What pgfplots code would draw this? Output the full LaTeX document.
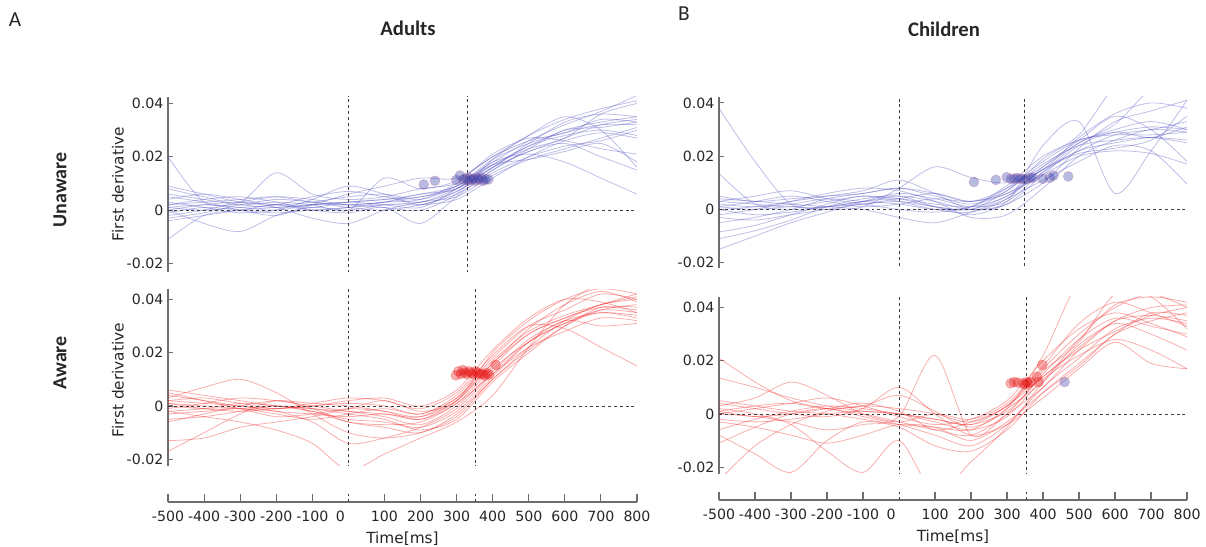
\documentclass[border=0pt]{standalone}
\usepackage{fontspec}
\setmainfont{DejaVu Sans}
\newfontfamily\calf{Carlito}
\usepackage{pgfplots}
\pgfplotsset{compat=1.18}
\definecolor{bline}{RGB}{70,70,190}
\definecolor{rline}{RGB}{240,40,40}
\definecolor{spine}{RGB}{110,110,110}
\definecolor{dashc}{RGB}{60,60,60}
\definecolor{txt}{RGB}{38,38,38}
\definecolor{bdot}{RGB}{50,60,170}
\definecolor{bedge}{RGB}{190,110,150}
\definecolor{rdot}{RGB}{230,20,20}
\pgfplotsset{
 panel/.style={scale only axis, anchor=south west, xmin=-500, xmax=800,
   axis x line=none, axis y line*=left, xtick=\empty,
   ytick={-20,0,20,40}, yticklabels={-0.02,0,0.02,0.04},
   y axis line style={draw=spine, line width=1pt},
   ytick style={draw=spine, line width=0.8pt},
   major tick length=3.5pt, tick align=inside,
   yticklabel style={font=\fontsize{10.6}{12}\selectfont, text=txt}},
 xpanel/.style={scale only axis, anchor=south west, xmin=-500, xmax=800, ymin=0, ymax=1, height=6pt,
   axis y line=none, axis x line*=bottom,
   xtick={-500,-400,-300,-200,-100,100,200,300,400,500,600,700,800},
   xticklabels={-500,-400,-300,-200,-100,100,200,300,400,500,600,700,800},
   extra x ticks={0}, extra x tick labels={0},
   extra x tick style={major tick length=0pt, xticklabel style={xshift=-6pt}},
   x axis line style={draw=spine, line width=1pt},
   xtick style={draw=spine, line width=0.8pt},
   major tick length=6pt, tick align=inside,
   xticklabel style={font=\fontsize{10.6}{12}\selectfont, text=txt, yshift=-3pt},
   xlabel={Time[ms]}, xlabel style={font=\fontsize{11.5}{13}\selectfont, text=txt, yshift=-1pt}},
 bl/.style={color=bline, opacity=0.35, line width=0.6pt, smooth, no marks},
 rl/.style={color=rline, opacity=0.38, line width=0.6pt, smooth, no marks},
 dl/.style={color=dashc, dash pattern=on 2.2pt off 2.2pt, line width=0.6pt, no marks},
 bd/.style={only marks, mark=*, mark size=3.75pt, mark options={fill=bdot, fill opacity=0.35, draw=bedge, draw opacity=0.4}},
 rd/.style={only marks, mark=*, mark size=3.75pt, mark options={fill=rdot, fill opacity=0.35, draw=rdot, draw opacity=0.3}},
}
\begin{document}
\begin{tikzpicture}
\path[use as bounding box] (0,0) rectangle (904.5pt,409.5pt);
% ---------------- Adults, unaware ----------------
\begin{axis}[panel, at={(126pt,205.7pt)}, width=351.75pt, height=131.4pt, ymin=-23.1, ymax=42.6]
\addplot[bl] coordinates {(-500,20)(-400,3)(-300,2)(-200,1)(-100,2)(0,3)(100,4)(200,6)(300,9)(400,17)(500,24)(600,30)(700,33)(800,35)};
\addplot[bl] coordinates {(-500,-11)(-400,-2)(-300,0)(-200,1)(-100,2)(0,2)(100,3)(200,5)(300,8)(400,16)(500,22)(600,27)(700,32)(800,34)};
\addplot[bl] coordinates {(-500,8)(-400,5)(-300,3)(-200,14)(-100,6)(0,4)(100,5)(200,8)(300,10)(400,18)(500,26)(600,32)(700,37)(800,43)};
\addplot[bl] coordinates {(-500,5)(-400,3)(-300,0)(-200,-2)(-100,2)(0,6)(100,9)(200,12)(300,12)(400,20)(500,28)(600,34)(700,38)(800,41)};
\addplot[bl] coordinates {(-500,0)(-400,-5)(-300,-8)(-200,-2)(-100,1)(0,0)(100,2)(200,3)(300,7)(400,16)(500,24)(600,28)(700,30)(800,28)};
\addplot[bl] coordinates {(-500,2)(-400,4)(-300,5)(-200,3)(-100,0)(0,-1)(100,1)(200,-5)(300,5)(400,15)(500,22)(600,25)(700,20)(800,15)};
\addplot[bl] coordinates {(-500,1)(-400,2)(-300,1)(-200,0)(-100,2)(0,3)(100,2)(200,1)(300,8)(400,18)(500,21)(600,18)(700,12)(800,6)};
\addplot[bl] coordinates {(-500,-3)(-400,-1)(-300,2)(-200,4)(-100,3)(0,1)(100,0)(200,2)(300,6)(400,14)(500,20)(600,24)(700,26)(800,30)};
\addplot[bl] coordinates {(-500,4)(-400,6)(-300,4)(-200,2)(-100,3)(0,5)(100,6)(200,4)(300,9)(400,19)(500,25)(600,29)(700,32)(800,32)};
\addplot[bl] coordinates {(-500,-2)(-400,0)(-300,3)(-200,5)(-100,4)(0,2)(100,3)(200,4)(300,10)(400,21)(500,27)(600,26)(700,23)(800,21)};
\addplot[bl] coordinates {(-500,3)(-400,1)(-300,-1)(-200,0)(-100,4)(0,9)(100,6)(200,2)(300,7)(400,15)(500,23)(600,30)(700,31)(800,33)};
\addplot[bl] coordinates {(-500,0)(-400,2)(-300,3)(-200,1)(-100,-3)(0,-5)(100,0)(200,3)(300,5)(400,13)(500,19)(600,23)(700,27)(800,31)};
\addplot[bl] coordinates {(-500,6)(-400,4)(-300,2)(-200,3)(-100,2)(0,0)(100,12)(200,8)(300,11)(400,20)(500,26)(600,29)(700,34)(800,33)};
\addplot[bl] coordinates {(-500,-4)(-400,-2)(-300,0)(-200,2)(-100,1)(0,3)(100,4)(200,5)(300,9)(400,17)(500,19)(600,22)(700,25)(800,18)};
\addplot[bl] coordinates {(-500,1)(-400,0)(-300,1)(-200,2)(-100,5)(0,7)(100,5)(200,3)(300,8)(400,16)(500,25)(600,33)(700,36)(800,35)};
\addplot[bl] coordinates {(-500,2)(-400,3)(-300,4)(-200,5)(-100,3)(0,2)(100,1)(200,0)(300,6)(400,19)(500,28)(600,35)(700,30)(800,16)};
\addplot[bl] coordinates {(-500,-1)(-400,1)(-300,0)(-200,-1)(-100,0)(0,1)(100,2)(200,2)(300,4)(400,12)(500,20)(600,26)(700,29)(800,27)};
\addplot[bl] coordinates {(-500,9)(-400,6)(-300,3)(-200,2)(-100,0)(0,1)(100,3)(200,6)(300,8)(400,17)(500,23)(600,27)(700,36)(800,40)};
\addplot[dl] coordinates {(-500,0)(800,0)};
\addplot[dl] coordinates {(0,-30)(0,50)};
\addplot[dl] coordinates {(331,-30)(331,50)};
\addplot[bd] coordinates {(209,9.6)(240,11)(299,11.3)(309,13)(318,11.5)(325,12)(331,11)(336,12)(341,11.5)(346,11.8)(352,11)(357,12)(362,11.5)(368,12.2)(374,11)(380,11.5)(388,11.5)};
\end{axis}
% ---------------- Adults, aware ----------------
\begin{axis}[panel, at={(126pt,60pt)}, width=351.75pt, height=132.4pt, ymin=-22.5, ymax=43.7]
\addplot[rl] coordinates {(-500,6)(-400,4)(-300,2)(-200,0)(-100,-1)(0,-2)(100,-3)(200,-4)(300,3)(400,17)(500,28)(600,34)(700,38)(800,41)};
\addplot[rl] coordinates {(-500,4)(-400,2)(-300,0)(-200,-1)(-100,0)(0,1)(100,0)(200,-3)(300,4)(400,18)(500,30)(600,36)(700,42)(800,40)};
\addplot[rl] coordinates {(-500,2)(-400,1)(-300,0)(-200,-2)(-100,-3)(0,-4)(100,-3)(200,-5)(300,2)(400,15)(500,27)(600,33)(700,37)(800,36)};
\addplot[rl] coordinates {(-500,0)(-400,-1)(-300,-1)(-200,0)(-100,-2)(0,-6)(100,-7)(200,-6)(300,1)(400,14)(500,24)(600,31)(700,36)(800,35)};
\addplot[rl] coordinates {(-500,-1)(-400,1)(-300,3)(-200,2)(-100,0)(0,-2)(100,-4)(200,-7)(300,0)(400,13)(500,25)(600,32)(700,35)(800,34)};
\addplot[rl] coordinates {(-500,-3)(-400,-2)(-300,-1)(-200,-3)(-100,-5)(0,-3)(100,-1)(200,-3)(300,3)(400,16)(500,29)(600,38)(700,43)(800,39)};
\addplot[rl] coordinates {(-500,-6)(-400,-3)(-300,0)(-200,2)(-100,1)(0,0)(100,-2)(200,-5)(300,1)(400,12)(500,22)(600,28)(700,33)(800,32)};
\addplot[rl] coordinates {(-500,-13)(-400,-12)(-300,-8)(-200,-6)(-100,-4)(0,-1)(100,2)(200,-2)(300,2)(400,20)(500,32)(600,40)(700,44)(800,42)};
\addplot[rl] coordinates {(-500,-17)(-400,-10)(-300,-3)(-200,2)(-100,-1)(0,-6)(100,-8)(200,-10)(300,-3)(400,10)(500,21)(600,30)(700,37)(800,37)};
\addplot[rl] coordinates {(-500,3)(-400,7)(-300,10)(-200,5)(-100,-3)(0,-10)(100,-12)(200,-10)(300,-4)(400,10)(500,22)(600,32)(700,38)(800,40)};
\addplot[rl] coordinates {(-500,-2)(-400,-4)(-300,-6)(-200,-9)(-100,-14)(0,-24)(100,-18)(200,-12)(300,-6)(400,4)(500,22)(600,38)(700,46)(800,50)};
\addplot[rl] coordinates {(-500,1)(-400,0)(-300,-1)(-200,-2)(-100,-6)(0,-14)(100,-12)(200,-8)(300,-1)(400,12)(500,24)(600,32)(700,30)(800,31)};
\addplot[rl] coordinates {(-500,2)(-400,3)(-300,1)(-200,-1)(-100,1)(0,3)(100,2)(200,-1)(300,5)(400,19)(500,30)(600,29)(700,22)(800,15)};
\addplot[rl] coordinates {(-500,5)(-400,2)(-300,-1)(-200,-4)(-100,-3)(0,-1)(100,-2)(200,-4)(300,2)(400,16)(500,27)(600,33)(700,38)(800,42)};
\addplot[rl] coordinates {(-500,-2)(-400,-1)(-300,1)(-200,0)(-100,-2)(0,-5)(100,-6)(200,-8)(300,-2)(400,11)(500,24)(600,31)(700,35)(800,33)};
\addplot[rl] coordinates {(-500,-5)(-400,-4)(-300,-2)(-200,0)(-100,-1)(0,-3)(100,-5)(200,-9)(300,-5)(400,9)(500,20)(600,30)(700,36)(800,38)};
\addplot[rl] coordinates {(-500,1)(-400,-1)(-300,-2)(-200,-1)(-100,0)(0,2)(100,3)(200,0)(300,6)(400,21)(500,33)(600,40)(700,39)(800,35)};
\addplot[dl] coordinates {(-500,0)(800,0)};
\addplot[dl] coordinates {(0,-30)(0,50)};
\addplot[dl] coordinates {(351,-30)(351,50)};
\addplot[rd] coordinates {(298,11.5)(305,13)(312,12)(318,13.5)(322,12.5)(328,12)(334,13)(340,12.5)(346,12)(352,13)(358,12.5)(364,12)(372,12)(378,11.5)(384,12.3)(390,11.8)(408,15.4)};
\end{axis}
% ---------------- Children, unaware ----------------
\begin{axis}[panel, at={(539.25pt,208.5pt)}, width=351pt, height=128.6pt, ymin=-22.0, ymax=42.4]
\addplot[bl] coordinates {(-500,38)(-400,18)(-300,2)(-200,1)(-100,3)(0,4)(100,2)(200,1)(300,5)(400,15)(500,22)(600,28)(700,30)(800,33)};
\addplot[bl] coordinates {(-500,13.5)(-400,2)(-300,0)(-200,1)(-100,2)(0,3)(100,1)(200,0)(300,7)(400,17)(500,24)(600,26)(700,27)(800,25)};
\addplot[bl] coordinates {(-500,5)(-400,3)(-300,4)(-200,5)(-100,6)(0,8)(100,5)(200,2)(300,6)(400,13)(500,20)(600,22)(700,21)(800,17)};
\addplot[bl] coordinates {(-500,3)(-400,2)(-300,1)(-200,3)(-100,5)(0,4)(100,1)(200,0)(300,5)(400,14)(500,25)(600,30)(700,33)(800,30)};
\addplot[bl] coordinates {(-500,2)(-400,1)(-300,2)(-200,4)(-100,3)(0,2)(100,0)(200,1)(300,8)(400,18)(500,26)(600,28)(700,28)(800,29)};
\addplot[bl] coordinates {(-500,0)(-400,-2)(-300,-1)(-200,1)(-100,3)(0,5)(100,3)(200,0)(300,3)(400,24)(500,33)(600,6)(700,22)(800,41)};
\addplot[bl] coordinates {(-500,-2)(-400,0)(-300,3)(-200,6)(-100,8)(0,7)(100,3)(200,-3)(300,-2)(400,8)(500,20)(600,26)(700,30)(800,29)};
\addplot[bl] coordinates {(-500,-5)(-400,-3)(-300,0)(-200,4)(-100,6)(0,8)(100,6)(200,3)(300,8)(400,16)(500,25)(600,32)(700,45)(800,48)};
\addplot[bl] coordinates {(-500,-8.5)(-400,-6)(-300,-2)(-200,2)(-100,5)(0,3)(100,0)(200,-1)(300,4)(400,16)(500,26)(600,35)(700,30)(800,18)};
\addplot[bl] coordinates {(-500,-11)(-400,-8)(-300,-4)(-200,1)(-100,4)(0,5)(100,1)(200,-2)(300,2)(400,10)(500,23)(600,33)(700,37)(800,41)};
\addplot[bl] coordinates {(-500,-15)(-400,-10)(-300,-5)(-200,-1)(-100,3)(0,6)(100,4)(200,1)(300,3)(400,14)(500,22)(600,25)(700,27)(800,26)};
\addplot[bl] coordinates {(-500,1)(-400,0)(-300,1)(-200,0)(-100,1)(0,8)(100,16)(200,12)(300,10)(400,15)(500,27)(600,36)(700,40)(800,38)};
\addplot[bl] coordinates {(-500,4)(-400,3)(-300,2)(-200,1)(-100,0)(0,-3)(100,-5)(200,-1)(300,4)(400,11)(500,18)(600,24)(700,22)(800,9.5)};
\addplot[bl] coordinates {(-500,0)(-400,1)(-300,3)(-200,5)(-100,7)(0,11)(100,6)(200,0)(300,2)(400,13)(500,24)(600,29)(700,27)(800,31)};
\addplot[bl] coordinates {(-500,-3)(-400,-4)(-300,-2)(-200,0)(-100,2)(0,4)(100,6)(200,3)(300,7)(400,19)(500,28)(600,46)(700,50)(800,50)};
\addplot[bl] coordinates {(-500,1)(-400,3)(-300,5)(-200,3)(-100,1)(0,2)(100,4)(200,3)(300,6)(400,15)(500,21)(600,23)(700,26)(800,35)};
\addplot[bl] coordinates {(-500,3)(-400,5)(-300,7)(-200,4)(-100,2)(0,0)(100,-1)(200,1)(300,9)(400,20)(500,26)(600,29)(700,31)(800,30)};
\addplot[dl] coordinates {(-500,0)(800,0)};
\addplot[dl] coordinates {(0,-30)(0,50)};
\addplot[dl] coordinates {(347,-30)(347,50)};
\addplot[bd] coordinates {(208,10.3)(269,11.1)(299,12.1)(311,11.5)(320,11.5)(328,11.8)(336,11.5)(344,11.5)(352,11.3)(365,11.8)(372,12)(399,11.5)(419,11.9)(429,12.7)(470,12.4)};
\end{axis}
% ---------------- Children, aware ----------------
\begin{axis}[panel, at={(539.25pt,54pt)}, width=351pt, height=133pt, ymin=-22.6, ymax=44.1]
\addplot[rl] coordinates {(-500,21)(-400,12)(-300,5)(-200,2)(-100,0)(0,-3)(100,-6)(200,-8)(300,0)(400,15)(500,28)(600,36)(700,33)(800,30)};
\addplot[rl] coordinates {(-500,13.5)(-400,10)(-300,6)(-200,3)(-100,1)(0,0)(100,-2)(200,-4)(300,3)(400,14)(500,25)(600,35)(700,37)(800,35)};
\addplot[rl] coordinates {(-500,5)(-400,3)(-300,1)(-200,0)(-100,-2)(0,-4)(100,-5)(200,-6)(300,2)(400,12)(500,26)(600,34)(700,30)(800,24)};
\addplot[rl] coordinates {(-500,3)(-400,6)(-300,12)(-200,7)(-100,0)(0,-3)(100,0)(200,-2)(300,4)(400,18)(500,34)(600,42)(700,38)(800,33)};
\addplot[rl] coordinates {(-500,1)(-400,3)(-300,4)(-200,2)(-100,3)(0,7)(100,1)(200,-5)(300,2)(400,22)(500,50)(600,55)(700,50)(800,45)};
\addplot[rl] coordinates {(-500,0)(-400,-1)(-300,-3)(-200,-6)(-100,-4)(0,-1)(100,22)(200,-8)(300,0)(400,10)(500,24)(600,35)(700,40)(800,41)};
\addplot[rl] coordinates {(-500,-3)(-400,-5)(-300,-8)(-200,-11)(-100,-8)(0,-4)(100,-5)(200,-10)(300,-3)(400,8)(500,18)(600,30)(700,35)(800,38)};
\addplot[rl] coordinates {(-500,-6)(-400,-2)(-300,1)(-200,3)(-100,2)(0,0)(100,-3)(200,-6)(300,-1)(400,13)(500,22)(600,28)(700,24)(800,17)};
\addplot[rl] coordinates {(-500,-11)(-400,-5)(-300,0)(-200,2)(-100,-1)(0,-4)(100,-8)(200,-12)(300,-4)(400,10)(500,21)(600,32)(700,36)(800,34)};
\addplot[rl] coordinates {(-500,-25)(-400,-12)(-300,-4)(-200,1)(-100,3)(0,2)(100,0)(200,-3)(300,3)(400,17)(500,30)(600,40)(700,45)(800,40)};
\addplot[rl] coordinates {(-500,2)(-400,0)(-300,-4)(-200,-14)(-100,-22)(0,-10)(100,-30)(200,-18)(300,-5)(400,12)(500,28)(600,41)(700,44)(800,42)};
\addplot[rl] coordinates {(-500,4)(-400,2)(-300,0)(-200,-1)(-100,2)(0,10)(100,0)(200,-8)(300,-4)(400,6)(500,17)(600,27)(700,19)(800,17)};
\addplot[rl] coordinates {(-500,0)(-400,2)(-300,4)(-200,6)(-100,3)(0,-1)(100,-4)(200,-2)(300,5)(400,20)(500,32)(600,38)(700,34)(800,29)};
\addplot[rl] coordinates {(-500,-2)(-400,-3)(-300,-2)(-200,0)(-100,1)(0,0)(100,-2)(200,-4)(300,1)(400,14)(500,24)(600,31)(700,37)(800,40)};
\addplot[rl] coordinates {(-500,-8)(-400,-15)(-300,-22)(-200,-10)(-100,-3)(0,-5)(100,-12)(200,-14)(300,-6)(400,8)(500,19)(600,30)(700,38)(800,37)};
\addplot[rl] coordinates {(-500,1)(-400,-1)(-300,0)(-200,2)(-100,4)(0,1)(100,-6)(200,-3)(300,3)(400,16)(500,27)(600,45)(700,44)(800,32)};
\addplot[dl] coordinates {(-500,0)(800,0)};
\addplot[dl] coordinates {(0,-30)(0,50)};
\addplot[dl] coordinates {(353,-30)(353,50)};
\addplot[rd] coordinates {(310,11.5)(320,12)(330,11.8)(345,11.5)(350,11)(355,12)(358,11.5)(365,12)(383,14)(388,12)(398,18.4)};
\addplot[bd] coordinates {(460,12)};
\end{axis}
% ---------------- x axes ----------------
\begin{axis}[xpanel, at={(126pt,33pt)}, width=351.75pt]
\addplot[dl] coordinates {(0,0)(0,1)};
\addplot[dl] coordinates {(351,0)(351,1)};
\end{axis}
\begin{axis}[xpanel, at={(539.25pt,34.5pt)}, width=351pt]
\addplot[dl] coordinates {(0,0)(0,1)};
\addplot[dl] coordinates {(353,0)(353,1)};
\end{axis}
% ---------------- texts ----------------
\begin{scope}[x=0.75pt,y=0.75pt]
\node[font=\calf\fontsize{16}{19}\selectfont, text=txt] at (15,526) {A};
\node[font=\calf\fontsize{16}{19}\selectfont, text=txt] at (684,532) {B};
\node[font=\calf\bfseries\fontsize{15.5}{18}\selectfont, text=txt] at (408,517.5) {Adults};
\node[font=\calf\bfseries\fontsize{15.5}{18}\selectfont, text=txt] at (944,517) {Children};
\node[font=\calf\bfseries\fontsize{15}{18}\selectfont, text=txt, rotate=90] at (60,356) {Unaware};
\node[font=\calf\bfseries\fontsize{15}{18}\selectfont, text=txt, rotate=90] at (60,183) {Aware};
\node[font=\fontsize{11.5}{13}\selectfont, text=txt, rotate=90] at (118,362) {First derivative};
\node[font=\fontsize{11.5}{13}\selectfont, text=txt, rotate=90] at (118,166) {First derivative};
\end{scope}
\end{tikzpicture}
\end{document}
